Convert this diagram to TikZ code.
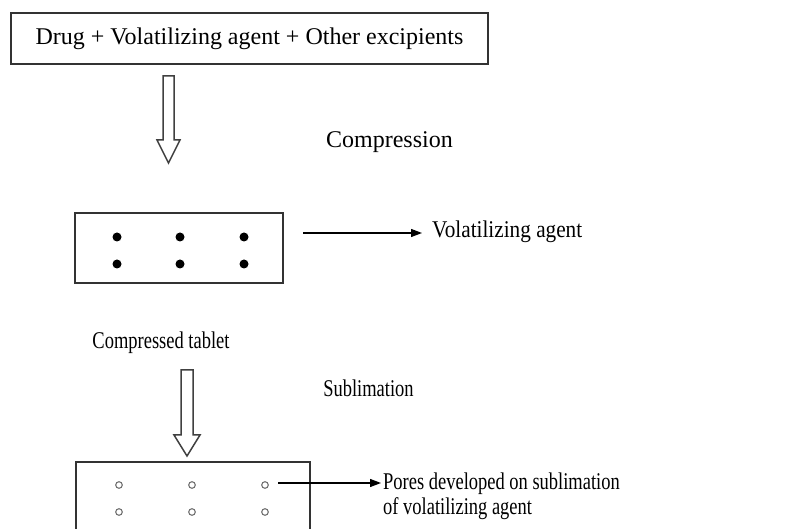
\documentclass[tikz,border=0pt]{standalone}
\usepackage{fontspec}
\setmainfont{Liberation Serif}
\newfontfamily\narrowserif{Liberation Serif}[FakeStretch=0.77]
\newfontfamily\slimserif{Liberation Serif}[FakeStretch=0.885]
\usetikzlibrary{positioning,arrows.meta}

\tikzset{
	box/.style={draw=black!80,line width=1.7pt,inner sep=0pt},
	lbl/.style={font=\fontsize{24}{25}\selectfont,inner sep=0pt},
	narrowlbl/.style={font=\fontsize{24}{25}\selectfont\narrowserif,inner sep=0pt},
	hollow/.style={draw=black!75,line width=1.5pt,fill=white,line join=miter},
	grain/.style={fill=black},
	pore/.style={draw=black!55,line width=1.1pt},
	pointer/.style={line width=1.3pt,-{Triangle[length=11pt,width=8pt]}}
}

% hollow down arrow: centre x, top y, head y, tip y, shaft half width, head half width
\newcommand{\hollowdown}[6]{%
	\draw[hollow] (#1-#5,#2) -- (#1+#5,#2) -- (#1+#5,#3) -- (#1+#6,#3) -- (#1,#4) -- (#1-#6,#3) -- (#1-#5,#3) -- cycle;}

\begin{document}
\begin{tikzpicture}[x=1pt,y=-1pt]
		
		\clip (0,0) rectangle (812,529);
		
		\node[box,lbl,minimum width=477pt,minimum height=51pt] (mix) at (249.5,38.5) {Drug + Volatilizing agent + Other excipients};
		\hollowdown{168.5}{76}{140}{163}{5.5}{11.5}
		\node[lbl] (compression) at (389.5,142) {Compression};
		
		\draw[box] (75,213) rectangle (283,283);
		\foreach \x in {117,180,244}
			\foreach \y in {237,264}
				\fill[grain] (\x,\y) circle (4.5);
		\coordinate (vtail) at (303,233);
		\node[lbl,font=\fontsize{24}{25}\selectfont\slimserif,anchor=west] (vagent) at (432,232) {Volatilizing agent};
		\draw[pointer,shorten >=10pt] (vtail) -- (vtail -| vagent.west);
		
		\node[narrowlbl] (tablet) at (161,343) {Compressed tablet};
		\hollowdown{187}{370}{435}{456}{6}{13}
		\node[narrowlbl] (sublimation) at (368.5,388) {Sublimation};
		
		\draw[box] (76,462) rectangle (310,535);
		\foreach \x in {119,192,265}
			\foreach \y in {485,512}
				\draw[pore] (\x,\y) circle (3.3);
		\coordinate (ptail) at (278,483);
		\node[narrowlbl,anchor=west,align=left] (pores) at (383,496) {Pores developed on sublimation\\of volatilizing agent};
		\draw[pointer,shorten >=2pt] (ptail) -- (ptail -| pores.west);
		
		\end{tikzpicture}
\end{document}
